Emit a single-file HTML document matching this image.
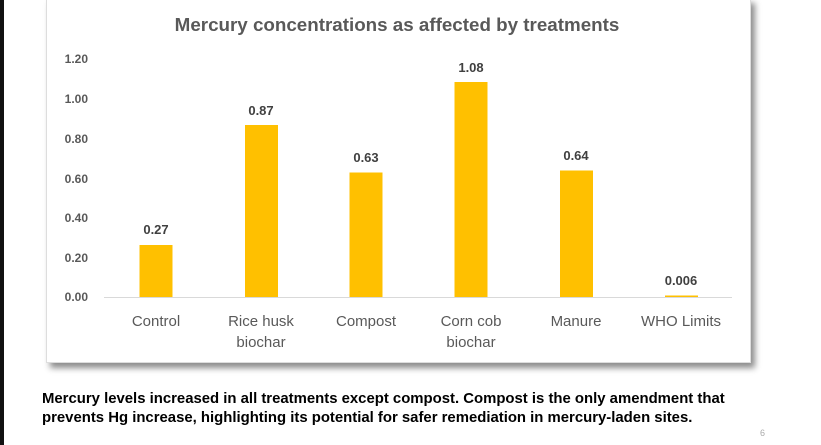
<!DOCTYPE html>
<html><head><style>
body{margin:0;width:821px;height:445px;background:#fff;position:relative;overflow:hidden;font-family:"Liberation Sans",sans-serif}
</style></head><body>
<div style="position:absolute;left:0;top:0;width:4px;height:445px;background:#111"></div>
<div style="position:absolute;left:46px;top:-2px;width:703px;height:363px;background:#fff;border:1px solid #ddd;box-shadow:4px 5px 6px rgba(0,0,0,0.45)"></div>
<svg style="position:absolute;left:0;top:0" width="821" height="445" font-family="Liberation Sans, sans-serif">
<text x="397" y="31" text-anchor="middle" font-size="18.8" font-weight="bold" fill="#595959">Mercury concentrations as affected by treatments</text>
<g font-size="12" font-weight="bold" fill="#595959" text-anchor="end">
<text x="88" y="63">1.20</text><text x="88" y="103">1.00</text><text x="88" y="143">0.80</text>
<text x="88" y="183">0.60</text><text x="88" y="222">0.40</text><text x="88" y="262">0.20</text><text x="88" y="301">0.00</text>
</g>
<line x1="104" y1="297.5" x2="732" y2="297.5" stroke="#d9d9d9" stroke-width="1"/>
<g fill="#FFC000">
<rect x="139.5" y="245" width="33" height="52"/>
<rect x="245" y="125" width="33" height="172"/>
<rect x="349.5" y="172.5" width="33" height="124.5"/>
<rect x="454.5" y="82" width="33" height="215"/>
<rect x="560" y="170.5" width="33" height="126.5"/>
<rect x="665" y="295.5" width="33" height="1.5"/>
</g>
<g font-size="13" font-weight="bold" fill="#404040" text-anchor="middle">
<text x="156" y="234">0.27</text><text x="261" y="115">0.87</text><text x="366" y="162">0.63</text>
<text x="471" y="72">1.08</text><text x="576" y="160">0.64</text><text x="681" y="285">0.006</text>
</g>
<g font-size="15" fill="#595959" text-anchor="middle">
<text x="156" y="326">Control</text><text x="261" y="326">Rice husk</text><text x="261" y="347">biochar</text>
<text x="366" y="326">Compost</text><text x="471" y="326">Corn cob</text><text x="471" y="347">biochar</text>
<text x="576" y="326">Manure</text><text x="681" y="326">WHO Limits</text>
</g>
<g font-size="14.9" font-weight="bold" fill="#000">
<text x="42" y="403">Mercury levels increased in all treatments except compost. Compost is the only amendment that</text>
<text x="42" y="422">prevents Hg increase, highlighting its potential for safer remediation in mercury-laden sites.</text>
</g>
<text x="760" y="436" font-size="9" fill="#aaa">6</text>
</svg>
</body></html>
